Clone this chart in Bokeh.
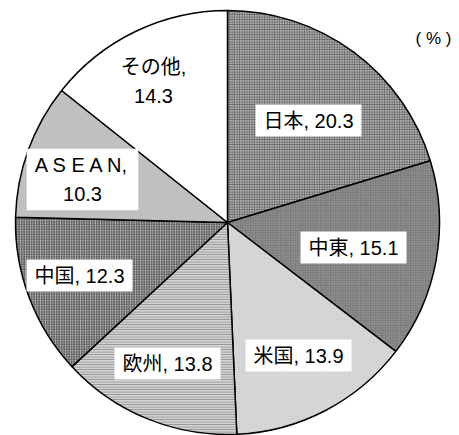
import math
from bokeh.plotting import figure
from bokeh.models import Range1d
from bokeh.core.properties import value
from bokeh.embed import file_html
from bokeh.resources import INLINE

# ---- data ----
regions = ["日本", "中東", "米国", "欧州", "中国", "ASEAN", "その他"]
shares = [20.3, 15.1, 13.9, 13.8, 12.3, 10.3, 14.3]

# ---- styles ----
fills = ["#b4b4b4", "#7c7c7c", "#d8d8d8", "#d4d4d4", "#c8c8c8", "#c0c0c0", "#ffffff"]
hatches = ["+", ".", ".", "-", "/", " ", " "]
hatch_colors = ["#6a6a6a", "#acacac", "#c4c4c4", "#8a8a8a", "#5a5a5a", "#c0c0c0", "#ffffff"]

W, H = 459, 435
p = figure(width=W, height=H, output_backend="svg", toolbar_location=None,
           x_range=Range1d(0, W), y_range=Range1d(0, H),
           min_border=0)
p.axis.visible = False
p.grid.visible = False
p.outline_line_color = None

cx, cy, r = 227, H - 222, 212
total = sum(shares)
starts, ends = [], []
acc = 0.0
for s in shares:
    starts.append(math.pi / 2 - 2 * math.pi * acc / total)
    acc += s
    ends.append(math.pi / 2 - 2 * math.pi * acc / total)

for i in range(len(shares)):
    kw = {}
    if hatches[i].strip():
        kw = dict(hatch_pattern=hatches[i], hatch_color=hatch_colors[i],
                  hatch_scale=2.5, hatch_weight=1)
    p.wedge(x=cx, y=cy, radius=r, start_angle=starts[i], end_angle=ends[i],
            direction="clock", fill_color=fills[i], line_color="black",
            line_width=1.5, **kw)

# label layout (page px)
label_pos = [(308, 120), (353, 247), (298, 355), (167, 363), (79, 275), (82, 179), (153, 81)]
texts = []
for name, v in zip(regions, shares):
    if name == "ASEAN":
        texts.append("A S E A N,\n%.1f" % v)
    elif name == "その他":
        texts.append("その他,\n%.1f" % v)
    else:
        texts.append("%s, %.1f" % (name, v))

font = value("Liberation Sans, Noto Sans CJK JP")
for (x, y), t in zip(label_pos, texts):
    p.text(x=[x], y=[H - y], text=[t], text_font=font, text_font_size="20px",
           text_align="center", text_baseline="middle", text_color="black",
           text_line_height=1.35,
           background_fill_color="white", padding=(8, 5))

p.text(x=[433], y=[H - 38], text=["( % )"], text_font=font, text_font_size="17px",
       text_align="center", text_baseline="middle", text_color="black")

open("out.html", "w").write(file_html(p, INLINE))
